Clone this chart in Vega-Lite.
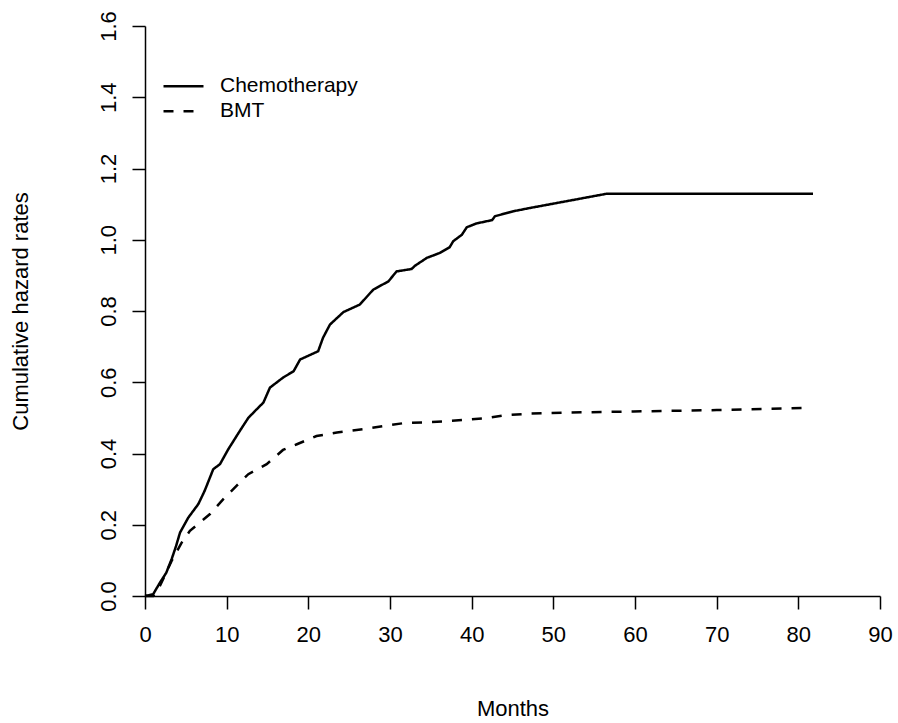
{
  "$schema": "https://vega.github.io/schema/vega-lite/v6.json",
  "width": 735,
  "height": 570,
  "autosize": {"type": "none"},
  "padding": {"left": 145, "top": 26, "right": 18, "bottom": 127},
  "background": "white",
  "config": {
    "view": {"stroke": null},
    "font": "Liberation Sans",
    "axis": {
      "grid": false,
      "domainColor": "black",
      "domainWidth": 1.5,
      "tickColor": "black",
      "tickWidth": 1.5,
      "tickSize": 13,
      "labelFont": "Liberation Sans",
      "labelFontSize": 22,
      "labelColor": "black",
      "titleFont": "Liberation Sans",
      "titleFontSize": 22,
      "titleFontWeight": "normal",
      "titleColor": "black"
    }
  },
  "data": {
    "values": [
      {"group": "Chemotherapy", "month": 0, "H": 0},
      {"group": "Chemotherapy", "month": 1.0, "H": 0.005},
      {"group": "Chemotherapy", "month": 1.84, "H": 0.038},
      {"group": "Chemotherapy", "month": 2.6, "H": 0.065},
      {"group": "Chemotherapy", "month": 3.27, "H": 0.104},
      {"group": "Chemotherapy", "month": 3.8, "H": 0.14},
      {"group": "Chemotherapy", "month": 4.29, "H": 0.178},
      {"group": "Chemotherapy", "month": 5.3, "H": 0.22},
      {"group": "Chemotherapy", "month": 6.53, "H": 0.258},
      {"group": "Chemotherapy", "month": 7.3, "H": 0.295},
      {"group": "Chemotherapy", "month": 8.36, "H": 0.356},
      {"group": "Chemotherapy", "month": 9.18, "H": 0.37},
      {"group": "Chemotherapy", "month": 10.2, "H": 0.412},
      {"group": "Chemotherapy", "month": 11.6, "H": 0.463},
      {"group": "Chemotherapy", "month": 12.65, "H": 0.5},
      {"group": "Chemotherapy", "month": 13.5, "H": 0.52},
      {"group": "Chemotherapy", "month": 14.5, "H": 0.543},
      {"group": "Chemotherapy", "month": 15.3, "H": 0.585},
      {"group": "Chemotherapy", "month": 16.9, "H": 0.613},
      {"group": "Chemotherapy", "month": 18.2, "H": 0.631},
      {"group": "Chemotherapy", "month": 19.0, "H": 0.664},
      {"group": "Chemotherapy", "month": 21.2, "H": 0.687},
      {"group": "Chemotherapy", "month": 21.8, "H": 0.725},
      {"group": "Chemotherapy", "month": 22.65, "H": 0.762},
      {"group": "Chemotherapy", "month": 24.3, "H": 0.797},
      {"group": "Chemotherapy", "month": 26.3, "H": 0.818},
      {"group": "Chemotherapy", "month": 27.95, "H": 0.86},
      {"group": "Chemotherapy", "month": 29.8, "H": 0.883},
      {"group": "Chemotherapy", "month": 30.8, "H": 0.911},
      {"group": "Chemotherapy", "month": 32.65, "H": 0.918},
      {"group": "Chemotherapy", "month": 33.06, "H": 0.927},
      {"group": "Chemotherapy", "month": 34.5, "H": 0.949},
      {"group": "Chemotherapy", "month": 36.1, "H": 0.963},
      {"group": "Chemotherapy", "month": 37.3, "H": 0.979},
      {"group": "Chemotherapy", "month": 37.75, "H": 0.996},
      {"group": "Chemotherapy", "month": 38.8, "H": 1.014},
      {"group": "Chemotherapy", "month": 39.4, "H": 1.035},
      {"group": "Chemotherapy", "month": 40.6, "H": 1.046},
      {"group": "Chemotherapy", "month": 42.5, "H": 1.055},
      {"group": "Chemotherapy", "month": 42.85, "H": 1.066},
      {"group": "Chemotherapy", "month": 45.1, "H": 1.08},
      {"group": "Chemotherapy", "month": 47.1, "H": 1.089},
      {"group": "Chemotherapy", "month": 56.5, "H": 1.129},
      {"group": "Chemotherapy", "month": 81.8, "H": 1.129},
      {"group": "BMT", "month": 0, "H": 0},
      {"group": "BMT", "month": 1.0, "H": 0.0},
      {"group": "BMT", "month": 1.84, "H": 0.029},
      {"group": "BMT", "month": 3.27, "H": 0.099},
      {"group": "BMT", "month": 4.49, "H": 0.15},
      {"group": "BMT", "month": 5.5, "H": 0.183},
      {"group": "BMT", "month": 7.96, "H": 0.23},
      {"group": "BMT", "month": 9.59, "H": 0.272},
      {"group": "BMT", "month": 11.2, "H": 0.309},
      {"group": "BMT", "month": 12.65, "H": 0.342},
      {"group": "BMT", "month": 14.9, "H": 0.37},
      {"group": "BMT", "month": 16.9, "H": 0.41},
      {"group": "BMT", "month": 18.6, "H": 0.426},
      {"group": "BMT", "month": 21.0, "H": 0.449},
      {"group": "BMT", "month": 23.5, "H": 0.459},
      {"group": "BMT", "month": 26.7, "H": 0.468},
      {"group": "BMT", "month": 29.2, "H": 0.477},
      {"group": "BMT", "month": 31.6, "H": 0.485},
      {"group": "BMT", "month": 34.9, "H": 0.488},
      {"group": "BMT", "month": 39.0, "H": 0.494},
      {"group": "BMT", "month": 41.6, "H": 0.499},
      {"group": "BMT", "month": 43.9, "H": 0.507},
      {"group": "BMT", "month": 47.1, "H": 0.512},
      {"group": "BMT", "month": 51.6, "H": 0.515},
      {"group": "BMT", "month": 59.8, "H": 0.518},
      {"group": "BMT", "month": 70.0, "H": 0.522},
      {"group": "BMT", "month": 81.6, "H": 0.528}
    ]
  },
  "mark": {"type": "line", "color": "black", "strokeWidth": 2.5, "strokeCap": "butt", "clip": false},
  "encoding": {
    "x": {
      "field": "month",
      "type": "quantitative",
      "title": "Months",
      "scale": {"domain": [0, 90], "nice": false, "zero": false},
      "axis": {
        "values": [0, 10, 20, 30, 40, 50, 60, 70, 80, 90],
        "labelPadding": 15,
        "titlePadding": 53,
        "labelFlush": false,
        "labelOverlap": false
      }
    },
    "y": {
      "field": "H",
      "type": "quantitative",
      "title": "Cumulative hazard rates",
      "scale": {"domain": [0, 1.6], "nice": false},
      "axis": {
        "values": [0, 0.2, 0.4, 0.6, 0.8, 1.0, 1.2, 1.4, 1.6],
        "format": ".1f",
        "labelAngle": -90,
        "labelAlign": "center",
        "labelBaseline": "bottom",
        "labelPadding": 12,
        "titlePadding": 65,
        "labelFlush": false,
        "labelOverlap": false
      }
    },
    "strokeDash": {
      "field": "group",
      "type": "nominal",
      "scale": {"domain": ["Chemotherapy", "BMT"], "range": [[1, 0], [10, 10]]},
      "legend": {
        "title": null,
        "orient": "none",
        "legendX": 17,
        "legendY": 48,
        "padding": 0,
        "symbolType": "stroke",
        "symbolSize": 1600,
        "symbolStrokeWidth": 2.5,
        "symbolStrokeColor": "black",
        "labelFont": "Liberation Sans",
        "labelFontSize": 21,
        "labelColor": "black",
        "labelOffset": 15,
        "clipHeight": 24.7,
        "rowPadding": 0
      }
    }
  }
}
